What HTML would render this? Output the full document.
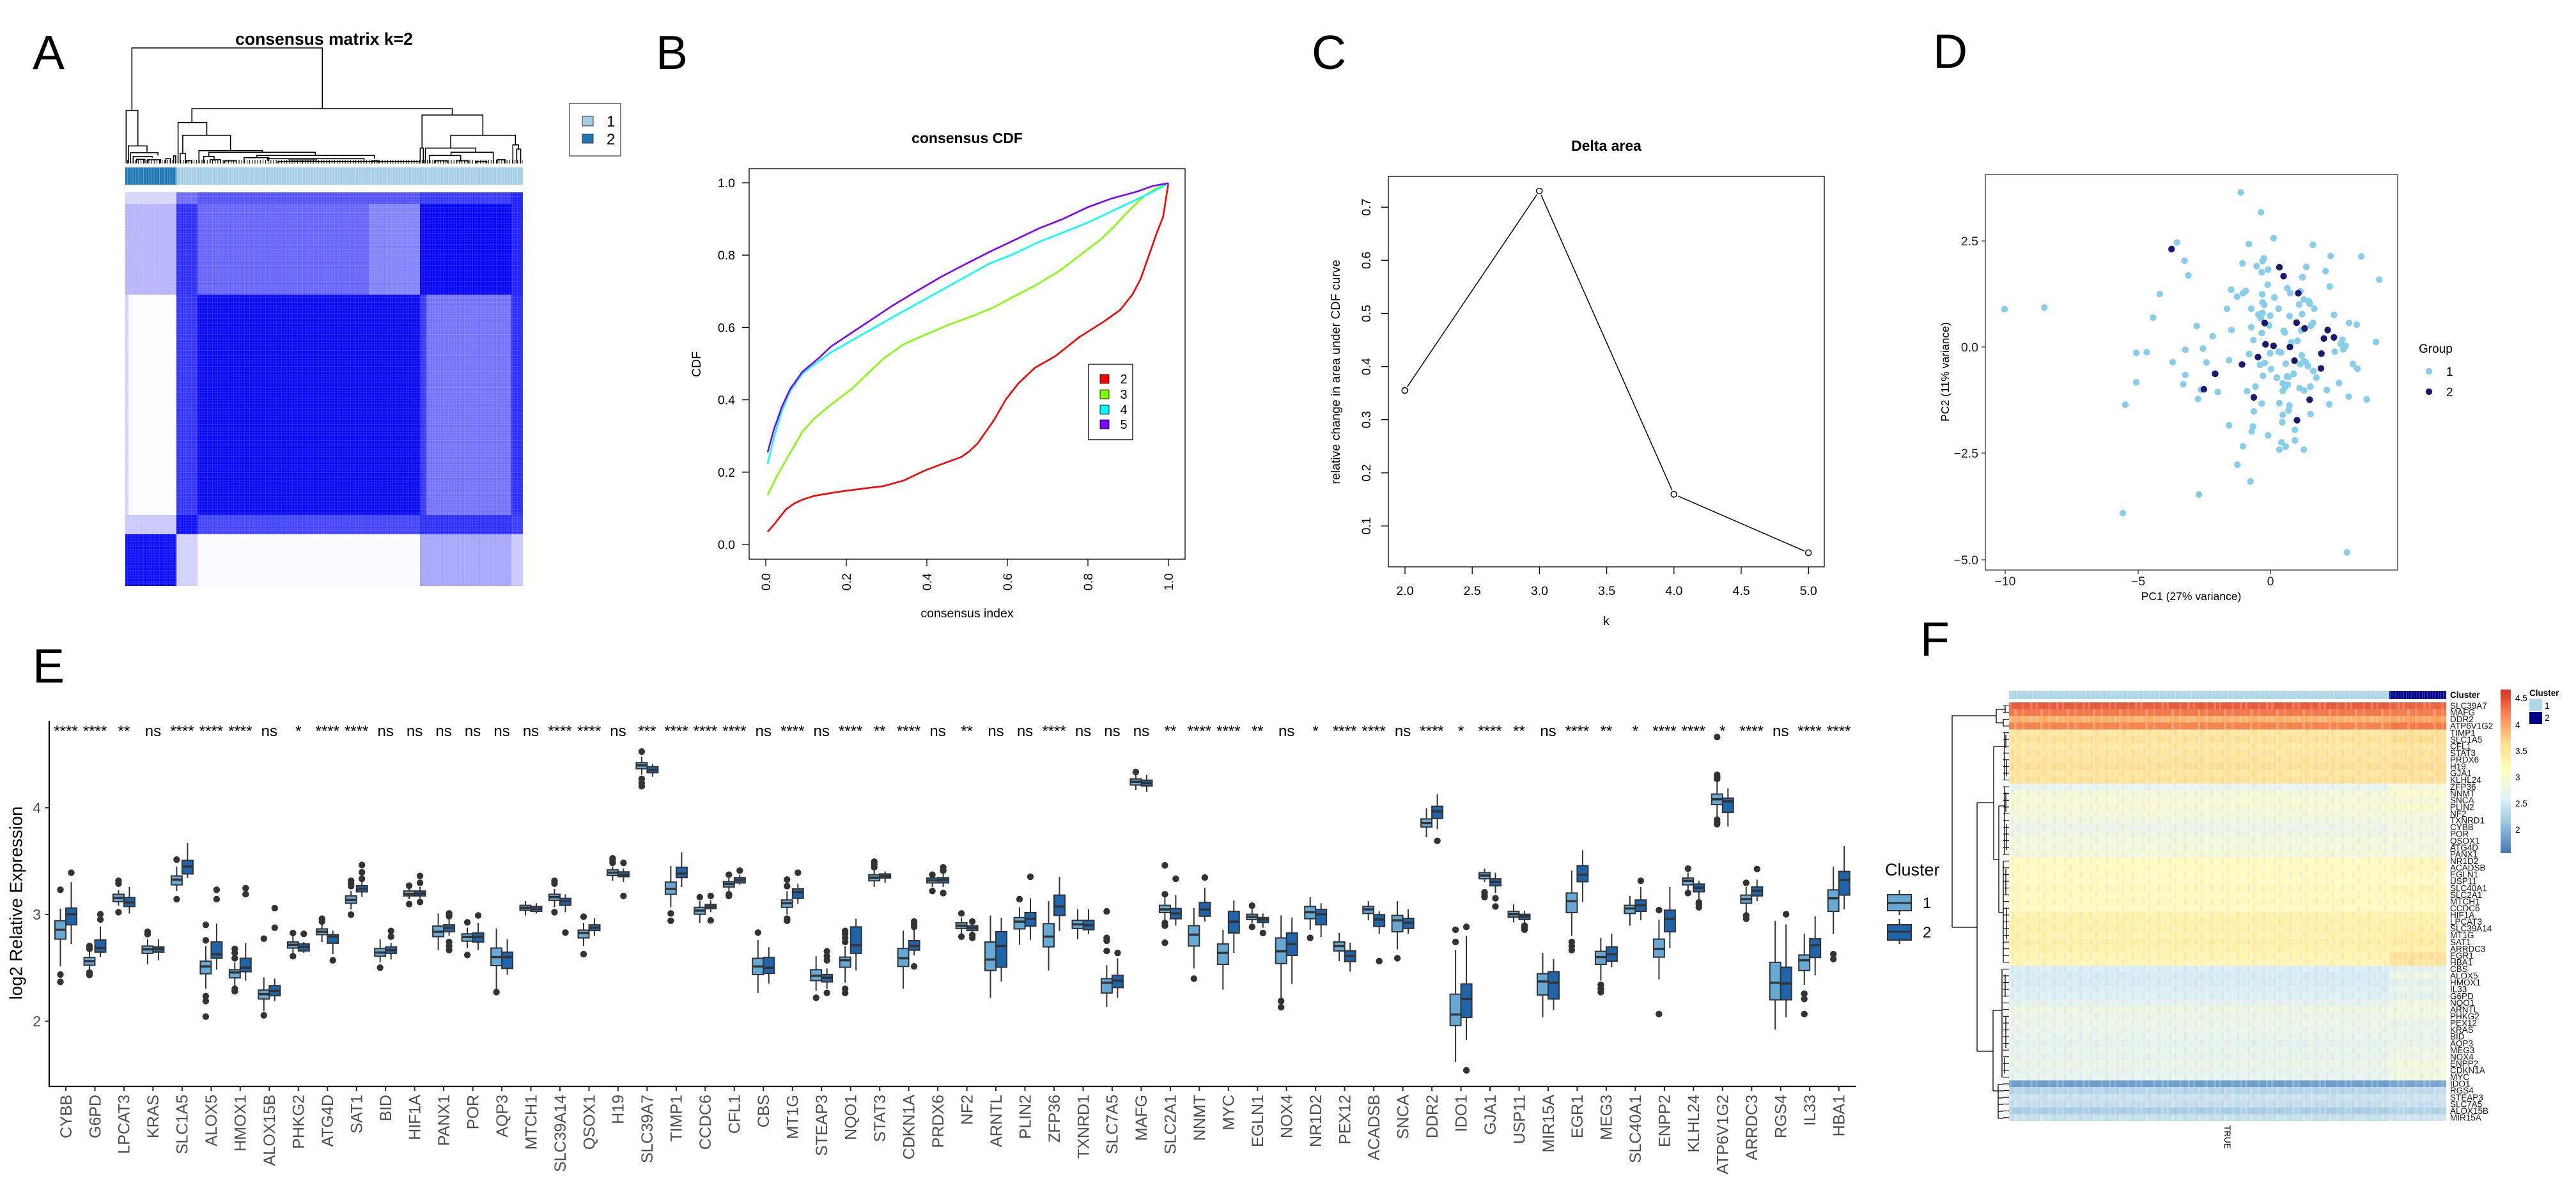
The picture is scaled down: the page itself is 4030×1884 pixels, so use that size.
<!DOCTYPE html>
<html><head><meta charset="utf-8"><style>
html,body{margin:0;padding:0;background:#fff;}
svg{display:block;}
svg text{font-family:"Liberation Sans",Arial,sans-serif;}
.sc path,.sc rect,.sc polyline,.sc ellipse,.sc line{vector-effect:non-scaling-stroke;}
.l{fill:#67a9d5}.d{fill:#1f63a8}.m{stroke-width:3.5}
</style></head><body>
<svg width="4030" height="1884" viewBox="0 0 4030 1884" xmlns="http://www.w3.org/2000/svg">
<defs>
<pattern id="hg" width="4.15" height="4.15" patternUnits="userSpaceOnUse"><path d="M0 0.5H4.15M0.5 0V4.15" stroke="#fff" stroke-opacity=".16" stroke-width="1"/></pattern>
<pattern id="cs" width="4.15" height="40" patternUnits="userSpaceOnUse"><rect width=".8" height="40" fill="#fff" fill-opacity=".35"/></pattern>
<pattern id="lf" width="4.15" height="40" patternUnits="userSpaceOnUse"><rect width="1.1" height="40" fill="#000"/></pattern>
<pattern id="lf2" x="0" y="1099" width="20" height="10.565" patternUnits="userSpaceOnUse"><rect y="4.8" width="20" height="1.1" fill="#000"/></pattern>
<pattern id="ft" x="3143" y="1099" width="41" height="21.13" patternUnits="userSpaceOnUse">
<rect x="0" y="0" width="4" height="10.565" fill="#fff" fill-opacity=".18"/>
<rect x="8" y="10.565" width="4" height="10.565" fill="#fff" fill-opacity=".22"/>
<rect x="12" y="0" width="4" height="10.565" fill="#c33" fill-opacity=".05"/>
<rect x="20" y="0" width="4" height="21.13" fill="#fff" fill-opacity=".12"/>
<rect x="28" y="10.565" width="4" height="10.565" fill="#36c" fill-opacity=".06"/>
<rect x="33" y="0" width="4" height="10.565" fill="#fff" fill-opacity=".2"/>
<rect x="4" y="10.565" width="4" height="10.565" fill="#36c" fill-opacity=".05"/>
</pattern>
<ellipse id="o" rx="5.2" ry="8.15" fill="#333" stroke="none"/>
<ellipse id="q" rx="7.9" ry="8.6" fill="#87ceeb" stroke="none"/>
<ellipse id="r" rx="7.9" ry="8.6" fill="#191970" stroke="none"/>
<linearGradient id="cb" x1="0" y1="0" x2="0" y2="1">
<stop offset="0" stop-color="#d73027"/><stop offset=".167" stop-color="#fc8d59"/><stop offset=".333" stop-color="#fee090"/><stop offset=".5" stop-color="#ffffbf"/><stop offset=".667" stop-color="#e0f3f8"/><stop offset=".833" stop-color="#91bfdb"/><stop offset="1" stop-color="#4575b4"/>
</linearGradient>
</defs>

<!-- Panel letters -->
<g font-size="75" fill="#000">
<text x="51" y="108">A</text>
<text x="1026" y="108">B</text>
<text x="2052" y="108">C</text>
<text x="3024" y="106">D</text>
<text x="51" y="1068">E</text>
<text x="3004" y="1026">F</text>
</g>

<!-- ============ Panel A ============ -->
<text x="507" y="70" font-size="26.5" font-weight="bold" text-anchor="middle">consensus matrix k=2</text>
<g class="sc" transform="translate(190,70) scale(0.4082,0.3333)" fill="none" stroke="#000" stroke-width="1.6">
<path d="M40 308V15H770V300"/>
<path d="M18 556V308H63V475"/>
<path d="M27 556V475H98V503"/>
<path d="M35 556V507H140V520"/>
<path d="M45 556V525H118V530"/>
<path d="M58 556V538H90V556"/>
<path d="M100 556V540H150V556"/>
<path d="M170 556V535H188V556"/>
<path d="M200 556V522H208V556"/>
<path d="M270 365V300H1268V330"/>
<path d="M217 556V365H327V425"/>
<path d="M235 510V425H418V497"/>
<path d="M225 556V510H245V556"/>
<path d="M297 556V497H540V505"/>
<path d="M335 525V505H743V520"/>
<path d="M315 556V525H355V545"/>
<path d="M518 530V520H970V535"/>
<path d="M470 556V530H565V545"/>
<path d="M560 545V535H930V548"/>
<path d="M1152 485V330H1385V425"/>
<path d="M1145 556V485H1157V556"/>
<path d="M1262 485V425H1510V470"/>
<path d="M1165 556V485H1358V505"/>
<path d="M1263 520V505H1425V556"/>
<path d="M1180 556V520H1300V545"/>
<path d="M1500 556V470H1522V490"/>
<path d="M1515 556V490H1530V556"/>
<path d="M250 556V545H270V556M340 556V540H380V556M395 556V545H440V556M600 556V548H1140M640 541H750M960 556V545H985V556M1200 556V545H1250V556M1285 556V545H1330V556M1360 556V548H1400V556M1440 556V540H1470V556"/>
</g>
<rect x="197" y="250" width="621" height="6" fill="url(#lf)"/>
<rect x="196" y="262" width="80" height="27" fill="#1f78b4"/>
<rect x="276" y="262" width="542" height="27" fill="#a6cee3"/>
<rect x="196" y="262" width="622" height="27" fill="url(#cs)"/>
<!-- heatmap -->
<rect x="196" y="301" width="80" height="160" fill="#b3b3fa"/>
<rect x="196" y="301" width="80" height="18" fill="#d5d5fd"/>
<rect x="276" y="301" width="33" height="160" fill="#2a2aff"/>
<rect x="276" y="301" width="33" height="18" fill="#6a6aff"/>
<rect x="309" y="301" width="348" height="160" fill="#6262ff"/>
<rect x="577" y="301" width="80" height="160" fill="#8080ff"/>
<rect x="309" y="301" width="348" height="18" fill="#5050ff"/>
<rect x="657" y="301" width="143" height="160" fill="#0000f8"/>
<rect x="657" y="301" width="143" height="18" fill="#3434ff"/>
<rect x="800" y="301" width="18" height="160" fill="#1c1cff"/>
<rect x="196" y="461" width="80" height="345" fill="#fdfdff"/>
<rect x="196" y="461" width="5" height="345" fill="#d0d0ff"/>
<rect x="276" y="461" width="33" height="345" fill="#3030ff"/>
<rect x="309" y="461" width="348" height="345" fill="#0303f2"/>
<rect x="657" y="461" width="143" height="345" fill="#7070ff"/>
<rect x="657" y="461" width="10" height="345" fill="#3030ff"/>
<rect x="800" y="461" width="18" height="345" fill="#2828ff"/>
<rect x="196" y="806" width="80" height="30" fill="#c8c8fd"/>
<rect x="276" y="806" width="33" height="30" fill="#0a0aff"/>
<rect x="309" y="806" width="348" height="30" fill="#4040ff"/>
<rect x="657" y="806" width="143" height="30" fill="#2a2aff"/>
<rect x="800" y="806" width="18" height="30" fill="#3838ff"/>
<rect x="196" y="836" width="80" height="81" fill="#0808ff"/>
<rect x="276" y="836" width="33" height="81" fill="#d0d0ff"/>
<rect x="309" y="836" width="348" height="81" fill="#fafaff"/>
<rect x="657" y="836" width="143" height="81" fill="#a4a4ff"/>
<rect x="800" y="836" width="18" height="81" fill="#c8c8ff"/>
<rect x="196" y="301" width="622" height="616" fill="url(#hg)"/>
<!-- legend A -->
<rect x="891" y="162" width="80" height="82" fill="#fff" stroke="#333" stroke-width="1.2"/>
<rect x="911" y="182" width="17" height="15" fill="#a6cee3" stroke="#333" stroke-width="1"/>
<rect x="911" y="210" width="17" height="14" fill="#1f78b4" stroke="#333" stroke-width="1"/>
<text x="949" y="198" font-size="24">1</text>
<text x="949" y="226" font-size="24">2</text>

<!-- ============ Panel B ============ -->
<text x="1513" y="224" font-size="23" font-weight="bold" text-anchor="middle">consensus CDF</text>
<rect x="1172" y="264" width="682" height="611" fill="none" stroke="#000" stroke-width="1.3"/>
<path d="M1161 852H1172M1161 738.8H1172M1161 625.6H1172M1161 512.4H1172M1161 399.2H1172M1161 286H1172M1198 875V886M1324 875V886M1450 875V886M1576 875V886M1702 875V886M1828 875V886" stroke="#000" stroke-width="1.3"/>
<g font-size="19.5" text-anchor="end">
<text x="1150" y="859">0.0</text><text x="1150" y="745.8">0.2</text><text x="1150" y="632.6">0.4</text><text x="1150" y="519.4">0.6</text><text x="1150" y="406.2">0.8</text><text x="1150" y="293">1.0</text>
<text transform="translate(1198,897) rotate(-90)" dy=".35em">0.0</text>
<text transform="translate(1324,897) rotate(-90)" dy=".35em">0.2</text>
<text transform="translate(1450,897) rotate(-90)" dy=".35em">0.4</text>
<text transform="translate(1576,897) rotate(-90)" dy=".35em">0.6</text>
<text transform="translate(1702,897) rotate(-90)" dy=".35em">0.8</text>
<text transform="translate(1828,897) rotate(-90)" dy=".35em">1.0</text>
</g>
<text x="1513" y="966" font-size="19.5" text-anchor="middle">consensus index</text>
<text transform="translate(1089,570) rotate(-90)" dy=".35em" font-size="19.5" text-anchor="middle">CDF</text>
<g class="sc" transform="translate(1000,0) scale(0.6378,0.6061)" fill="none" stroke-width="2.6" stroke-linejoin="round">
<path stroke="#ff0000" d="M315 1373L330 1355 360 1315 380 1300 400 1290 430 1280 470 1273 500 1268 560 1260 600 1255 650 1240 680 1225 700 1215 750 1195 790 1180 810 1165 830 1145 850 1115 870 1085 900 1030 930 990 970 950 1020 920 1080 870 1140 830 1180 800 1210 760 1230 720 1250 660 1260 630 1270 600 1285 560 1298 473"/>
<path stroke="#80ff00" d="M315 1278L340 1225 370 1170 400 1115 430 1080 470 1045 520 1005 560 965 600 925 650 888 700 865 760 838 820 815 870 793 920 765 970 738 1030 700 1080 660 1130 620 1160 590 1200 545 1240 505 1270 485 1298 473"/>
<path stroke="#00ffff" d="M315 1198L330 1130 350 1060 370 1010 400 965 430 940 470 910 520 880 570 850 620 820 680 785 740 750 800 715 860 680 920 655 980 625 1040 600 1100 575 1160 545 1220 515 1260 495 1298 473"/>
<path stroke="#8000ff" d="M315 1168L330 1110 350 1050 370 1005 400 960 440 925 470 895 520 860 570 825 620 790 680 752 740 715 800 682 860 650 920 620 980 590 1040 565 1100 535 1160 512 1220 495 1260 480 1298 473"/>
</g>
<rect x="1703" y="570" width="69" height="118" fill="#fff" stroke="#000" stroke-width="1.3"/>
<rect x="1721" y="586" width="14" height="14" fill="#ff0000" stroke="#000" stroke-width=".8"/>
<rect x="1721" y="610" width="14" height="14" fill="#80ff00" stroke="#000" stroke-width=".8"/>
<rect x="1721" y="634" width="14" height="14" fill="#00ffff" stroke="#000" stroke-width=".8"/>
<rect x="1721" y="657" width="14" height="14" fill="#8000ff" stroke="#000" stroke-width=".8"/>
<g font-size="20" text-anchor="middle"><text x="1758" y="600">2</text><text x="1758" y="624">3</text><text x="1758" y="648">4</text><text x="1758" y="671">5</text></g>

<!-- ============ Panel C ============ -->
<text x="2513" y="236" font-size="23" font-weight="bold" text-anchor="middle">Delta area</text>
<rect x="2172" y="276" width="682" height="611" fill="none" stroke="#000" stroke-width="1.3"/>
<path d="M2161 823H2172M2161 739.9H2172M2161 656.7H2172M2161 573.6H2172M2161 490.5H2172M2161 407.3H2172M2161 324.2H2172M2198 887V898M2303.2 887V898M2408.4 887V898M2513.6 887V898M2618.8 887V898M2724 887V898M2829.2 887V898" stroke="#000" stroke-width="1.3"/>
<g font-size="19.5" text-anchor="middle">
<text transform="translate(2137,823) rotate(-90)" dy=".35em">0.1</text>
<text transform="translate(2137,739.9) rotate(-90)" dy=".35em">0.2</text>
<text transform="translate(2137,656.7) rotate(-90)" dy=".35em">0.3</text>
<text transform="translate(2137,573.6) rotate(-90)" dy=".35em">0.4</text>
<text transform="translate(2137,490.5) rotate(-90)" dy=".35em">0.5</text>
<text transform="translate(2137,407.3) rotate(-90)" dy=".35em">0.6</text>
<text transform="translate(2137,324.2) rotate(-90)" dy=".35em">0.7</text>
<text x="2198" y="931">2.0</text><text x="2303.2" y="931">2.5</text><text x="2408.4" y="931">3.0</text><text x="2513.6" y="931">3.5</text><text x="2618.8" y="931">4.0</text><text x="2724" y="931">4.5</text><text x="2829.2" y="931">5.0</text>
<text x="2513" y="978">k</text>
<text transform="translate(2089,582) rotate(-90)" dy=".35em">relative change in area under CDF curve</text>
</g>
<g class="sc" transform="translate(2000,0) scale(0.6378,0.6061)">
<polyline points="310,1008 640,493 970,1276 1300,1427" fill="none" stroke="#000" stroke-width="1.5"/>
<g fill="#fff" stroke="none"><ellipse cx="310" cy="1008" rx="11" ry="11.5"/><ellipse cx="640" cy="493" rx="11" ry="11.5"/><ellipse cx="970" cy="1276" rx="11" ry="11.5"/><ellipse cx="1300" cy="1427" rx="11" ry="11.5"/></g>
<g fill="#fff" stroke="#000" stroke-width="1.5"><ellipse cx="310" cy="1008" rx="7.1" ry="7.4"/><ellipse cx="640" cy="493" rx="7.1" ry="7.4"/><ellipse cx="970" cy="1276" rx="7.1" ry="7.4"/><ellipse cx="1300" cy="1427" rx="7.1" ry="7.4"/></g>
</g>

<!-- ============ Panel D ============ -->
<g transform="translate(3000,0) scale(0.6566,0.6061)">
<use href="#q" x="770" y="497"/><use href="#q" x="818" y="548"/><use href="#q" x="848" y="615"/><use href="#q" x="942" y="632"/><use href="#q" x="789" y="630"/><use href="#q" x="618" y="626"/><use href="#q" x="984" y="661"/><use href="#q" x="1057" y="662"/><use href="#q" x="636" y="673"/><use href="#q" x="774" y="680"/><use href="#q" x="808" y="687"/><use href="#q" x="825" y="667"/><use href="#q" x="822" y="674"/><use href="#q" x="835" y="696"/><use href="#q" x="820" y="703"/><use href="#q" x="926" y="689"/><use href="#q" x="972" y="700"/><use href="#q" x="1100" y="722"/><use href="#q" x="645" y="711"/><use href="#q" x="917" y="716"/><use href="#q" x="982" y="740"/><use href="#q" x="834" y="735"/><use href="#q" x="881" y="744"/><use href="#q" x="912" y="752"/><use href="#q" x="888" y="757"/><use href="#q" x="747" y="748"/><use href="#q" x="775" y="757"/><use href="#q" x="761" y="766"/><use href="#q" x="782" y="751"/><use href="#q" x="821" y="760"/><use href="#q" x="850" y="768"/><use href="#q" x="577" y="759"/><use href="#q" x="920" y="773"/><use href="#q" x="932" y="777"/><use href="#q" x="934" y="784"/><use href="#q" x="909" y="786"/><use href="#q" x="826" y="787"/><use href="#q" x="822" y="781"/><use href="#q" x="207" y="798"/><use href="#q" x="302" y="794"/><use href="#q" x="737" y="797"/><use href="#q" x="795" y="797"/><use href="#q" x="860" y="797"/><use href="#q" x="945" y="797"/><use href="#q" x="992" y="813"/><use href="#q" x="916" y="811"/><use href="#q" x="886" y="816"/><use href="#q" x="812" y="812"/><use href="#q" x="822" y="808"/><use href="#q" x="840" y="815"/><use href="#q" x="818" y="822"/><use href="#q" x="561" y="820"/><use href="#q" x="1028" y="834"/><use href="#q" x="1046" y="838"/><use href="#q" x="942" y="834"/><use href="#q" x="937" y="841"/><use href="#q" x="665" y="842"/><use href="#q" x="795" y="845"/><use href="#q" x="838" y="840"/><use href="#q" x="914" y="853"/><use href="#q" x="748" y="852"/><use href="#q" x="872" y="854"/><use href="#q" x="875" y="858"/><use href="#q" x="820" y="860"/><use href="#q" x="703" y="868"/><use href="#q" x="800" y="878"/><use href="#q" x="890" y="884"/><use href="#q" x="905" y="880"/><use href="#q" x="1012" y="877"/><use href="#q" x="1020" y="893"/><use href="#q" x="1008" y="888"/><use href="#q" x="1014" y="902"/><use href="#q" x="1092" y="883"/><use href="#q" x="994" y="908"/><use href="#q" x="521" y="911"/><use href="#q" x="546" y="909"/><use href="#q" x="638" y="903"/><use href="#q" x="680" y="900"/><use href="#q" x="790" y="914"/><use href="#q" x="840" y="912"/><use href="#q" x="860" y="908"/><use href="#q" x="866" y="910"/><use href="#q" x="915" y="917"/><use href="#q" x="920" y="932"/><use href="#q" x="925" y="935"/><use href="#q" x="912" y="940"/><use href="#q" x="930" y="945"/><use href="#q" x="608" y="935"/><use href="#q" x="688" y="936"/><use href="#q" x="742" y="930"/><use href="#q" x="816" y="942"/><use href="#q" x="827" y="937"/><use href="#q" x="877" y="939"/><use href="#q" x="1037" y="940"/><use href="#q" x="1048" y="952"/><use href="#q" x="842" y="953"/><use href="#q" x="943" y="958"/><use href="#q" x="950" y="975"/><use href="#q" x="638" y="968"/><use href="#q" x="708" y="964"/><use href="#q" x="823" y="970"/><use href="#q" x="856" y="975"/><use href="#q" x="880" y="972"/><use href="#q" x="884" y="973"/><use href="#q" x="896" y="965"/><use href="#q" x="521" y="987"/><use href="#q" x="633" y="992"/><use href="#q" x="1004" y="989"/><use href="#q" x="870" y="990"/><use href="#q" x="876" y="999"/><use href="#q" x="882" y="993"/><use href="#q" x="805" y="998"/><use href="#q" x="936" y="998"/><use href="#q" x="910" y="1002"/><use href="#q" x="921" y="1008"/><use href="#q" x="975" y="1007"/><use href="#q" x="675" y="1006"/><use href="#q" x="715" y="1012"/><use href="#q" x="785" y="1010"/><use href="#q" x="870" y="1009"/><use href="#q" x="1027" y="1024"/><use href="#q" x="1070" y="1031"/><use href="#q" x="668" y="1030"/><use href="#q" x="820" y="1042"/><use href="#q" x="862" y="1041"/><use href="#q" x="886" y="1047"/><use href="#q" x="981" y="1044"/><use href="#q" x="495" y="1045"/><use href="#q" x="801" y="1062"/><use href="#q" x="884" y="1060"/><use href="#q" x="870" y="1071"/><use href="#q" x="936" y="1069"/><use href="#q" x="742" y="1098"/><use href="#q" x="799" y="1101"/><use href="#q" x="869" y="1090"/><use href="#q" x="796" y="1114"/><use href="#q" x="899" y="1110"/><use href="#q" x="835" y="1124"/><use href="#q" x="867" y="1142"/><use href="#q" x="899" y="1137"/><use href="#q" x="775" y="1152"/><use href="#q" x="877" y="1153"/><use href="#q" x="862" y="1161"/><use href="#q" x="920" y="1161"/><use href="#q" x="762" y="1200"/><use href="#q" x="793" y="1243"/><use href="#q" x="670" y="1277"/><use href="#q" x="489" y="1325"/><use href="#q" x="1023" y="1426"/>
<use href="#r" x="605" y="643"/><use href="#r" x="862" y="690"/><use href="#r" x="872" y="713"/><use href="#r" x="907" y="757"/><use href="#r" x="827" y="834"/><use href="#r" x="903" y="833"/><use href="#r" x="922" y="848"/><use href="#r" x="977" y="852"/><use href="#r" x="968" y="874"/><use href="#r" x="992" y="871"/><use href="#r" x="829" y="889"/><use href="#r" x="848" y="893"/><use href="#r" x="887" y="896"/><use href="#r" x="962" y="913"/><use href="#r" x="811" y="922"/><use href="#r" x="898" y="931"/><use href="#r" x="773" y="941"/><use href="#r" x="961" y="951"/><use href="#r" x="709" y="965"/><use href="#r" x="682" y="1005"/><use href="#r" x="801" y="1026"/><use href="#r" x="934" y="1032"/><use href="#r" x="904" y="1085"/>
</g>
<rect x="3106" y="273" width="645" height="619" fill="none" stroke="#333" stroke-width="1.3"/>
<path d="M3100 377H3106M3100 543H3106M3100 709H3106M3100 876H3106M3137 892V898M3345 892V898M3552 892V898" stroke="#333" stroke-width="1.3"/>
<g font-size="19.5" fill="#222">
<g text-anchor="end"><text x="3095" y="384">2.5</text><text x="3095" y="550">0.0</text><text x="3095" y="716">−2.5</text><text x="3095" y="883">−5.0</text></g>
<g text-anchor="middle"><text x="3137" y="916">−10</text><text x="3345" y="916">−5</text><text x="3552" y="916">0</text></g>
</g>
<text x="3428" y="939" font-size="17.5" text-anchor="middle">PC1 (27% variance)</text>
<text transform="translate(3043,582) rotate(-90)" dy=".35em" font-size="17.5" text-anchor="middle">PC2 (11% variance)</text>
<text x="3784" y="552" font-size="19">Group</text>
<circle cx="3800" cy="581" r="5.2" fill="#87ceeb"/>
<circle cx="3800" cy="613" r="5.2" fill="#191970"/>
<text x="3827" y="588" font-size="19">1</text>
<text x="3827" y="620" font-size="19">2</text>

<!-- ============ Panel E ============ -->
<path d="M77 1128V1700H2904" fill="none" stroke="#000" stroke-width="2.2"/>
<path d="M71 1264H77M71 1431H77M71 1598H77" stroke="#333" stroke-width="2"/>
<g font-size="23" fill="#4d4d4d" text-anchor="end"><text x="64" y="1272">4</text><text x="64" y="1439">3</text><text x="64" y="1606">2</text></g>
<text transform="translate(25,1413) rotate(-90)" dy=".35em" font-size="27.5" text-anchor="middle">log2 Relative Expression</text>
<path stroke="#333" stroke-width="2" d="M103 1700v7M148.5 1700v7M193.9 1700v7M239.4 1700v7M284.9 1700v7M330.4 1700v7M375.8 1700v7M421.3 1700v7M466.8 1700v7M512.2 1700v7M557.7 1700v7M603.2 1700v7M648.6 1700v7M694.1 1700v7M739.6 1700v7M785.1 1700v7M830.5 1700v7M876 1700v7M921.5 1700v7M966.9 1700v7M1012.4 1700v7M1057.9 1700v7M1103.3 1700v7M1148.8 1700v7M1194.3 1700v7M1239.8 1700v7M1285.2 1700v7M1330.7 1700v7M1376.2 1700v7M1421.6 1700v7M1467.1 1700v7M1512.6 1700v7M1558 1700v7M1603.5 1700v7M1649 1700v7M1694.5 1700v7M1739.9 1700v7M1785.4 1700v7M1830.9 1700v7M1876.3 1700v7M1921.8 1700v7M1967.3 1700v7M2012.7 1700v7M2058.2 1700v7M2103.7 1700v7M2149.2 1700v7M2194.6 1700v7M2240.1 1700v7M2285.6 1700v7M2331 1700v7M2376.5 1700v7M2422 1700v7M2467.4 1700v7M2512.9 1700v7M2558.4 1700v7M2603.9 1700v7M2649.3 1700v7M2694.8 1700v7M2740.3 1700v7M2785.7 1700v7M2831.2 1700v7M2876.7 1700v7"/>
<g font-size="25" fill="#4d4d4d" text-anchor="end">
<text transform="translate(103,1713) rotate(-90)" dy=".35em">CYBB</text>
<text transform="translate(148.5,1713) rotate(-90)" dy=".35em">G6PD</text>
<text transform="translate(193.9,1713) rotate(-90)" dy=".35em">LPCAT3</text>
<text transform="translate(239.4,1713) rotate(-90)" dy=".35em">KRAS</text>
<text transform="translate(284.9,1713) rotate(-90)" dy=".35em">SLC1A5</text>
<text transform="translate(330.4,1713) rotate(-90)" dy=".35em">ALOX5</text>
<text transform="translate(375.8,1713) rotate(-90)" dy=".35em">HMOX1</text>
<text transform="translate(421.3,1713) rotate(-90)" dy=".35em">ALOX15B</text>
<text transform="translate(466.8,1713) rotate(-90)" dy=".35em">PHKG2</text>
<text transform="translate(512.2,1713) rotate(-90)" dy=".35em">ATG4D</text>
<text transform="translate(557.7,1713) rotate(-90)" dy=".35em">SAT1</text>
<text transform="translate(603.2,1713) rotate(-90)" dy=".35em">BID</text>
<text transform="translate(648.6,1713) rotate(-90)" dy=".35em">HIF1A</text>
<text transform="translate(694.1,1713) rotate(-90)" dy=".35em">PANX1</text>
<text transform="translate(739.6,1713) rotate(-90)" dy=".35em">POR</text>
<text transform="translate(785.1,1713) rotate(-90)" dy=".35em">AQP3</text>
<text transform="translate(830.5,1713) rotate(-90)" dy=".35em">MTCH1</text>
<text transform="translate(876,1713) rotate(-90)" dy=".35em">SLC39A14</text>
<text transform="translate(921.5,1713) rotate(-90)" dy=".35em">QSOX1</text>
<text transform="translate(966.9,1713) rotate(-90)" dy=".35em">H19</text>
<text transform="translate(1012.4,1713) rotate(-90)" dy=".35em">SLC39A7</text>
<text transform="translate(1057.9,1713) rotate(-90)" dy=".35em">TIMP1</text>
<text transform="translate(1103.3,1713) rotate(-90)" dy=".35em">CCDC6</text>
<text transform="translate(1148.8,1713) rotate(-90)" dy=".35em">CFL1</text>
<text transform="translate(1194.3,1713) rotate(-90)" dy=".35em">CBS</text>
<text transform="translate(1239.8,1713) rotate(-90)" dy=".35em">MT1G</text>
<text transform="translate(1285.2,1713) rotate(-90)" dy=".35em">STEAP3</text>
<text transform="translate(1330.7,1713) rotate(-90)" dy=".35em">NQO1</text>
<text transform="translate(1376.2,1713) rotate(-90)" dy=".35em">STAT3</text>
<text transform="translate(1421.6,1713) rotate(-90)" dy=".35em">CDKN1A</text>
<text transform="translate(1467.1,1713) rotate(-90)" dy=".35em">PRDX6</text>
<text transform="translate(1512.6,1713) rotate(-90)" dy=".35em">NF2</text>
<text transform="translate(1558,1713) rotate(-90)" dy=".35em">ARNTL</text>
<text transform="translate(1603.5,1713) rotate(-90)" dy=".35em">PLIN2</text>
<text transform="translate(1649,1713) rotate(-90)" dy=".35em">ZFP36</text>
<text transform="translate(1694.5,1713) rotate(-90)" dy=".35em">TXNRD1</text>
<text transform="translate(1739.9,1713) rotate(-90)" dy=".35em">SLC7A5</text>
<text transform="translate(1785.4,1713) rotate(-90)" dy=".35em">MAFG</text>
<text transform="translate(1830.9,1713) rotate(-90)" dy=".35em">SLC2A1</text>
<text transform="translate(1876.3,1713) rotate(-90)" dy=".35em">NNMT</text>
<text transform="translate(1921.8,1713) rotate(-90)" dy=".35em">MYC</text>
<text transform="translate(1967.3,1713) rotate(-90)" dy=".35em">EGLN1</text>
<text transform="translate(2012.7,1713) rotate(-90)" dy=".35em">NOX4</text>
<text transform="translate(2058.2,1713) rotate(-90)" dy=".35em">NR1D2</text>
<text transform="translate(2103.7,1713) rotate(-90)" dy=".35em">PEX12</text>
<text transform="translate(2149.2,1713) rotate(-90)" dy=".35em">ACADSB</text>
<text transform="translate(2194.6,1713) rotate(-90)" dy=".35em">SNCA</text>
<text transform="translate(2240.1,1713) rotate(-90)" dy=".35em">DDR2</text>
<text transform="translate(2285.6,1713) rotate(-90)" dy=".35em">IDO1</text>
<text transform="translate(2331,1713) rotate(-90)" dy=".35em">GJA1</text>
<text transform="translate(2376.5,1713) rotate(-90)" dy=".35em">USP11</text>
<text transform="translate(2422,1713) rotate(-90)" dy=".35em">MIR15A</text>
<text transform="translate(2467.4,1713) rotate(-90)" dy=".35em">EGR1</text>
<text transform="translate(2512.9,1713) rotate(-90)" dy=".35em">MEG3</text>
<text transform="translate(2558.4,1713) rotate(-90)" dy=".35em">SLC40A1</text>
<text transform="translate(2603.9,1713) rotate(-90)" dy=".35em">ENPP2</text>
<text transform="translate(2649.3,1713) rotate(-90)" dy=".35em">KLHL24</text>
<text transform="translate(2694.8,1713) rotate(-90)" dy=".35em">ATP6V1G2</text>
<text transform="translate(2740.3,1713) rotate(-90)" dy=".35em">ARRDC3</text>
<text transform="translate(2785.7,1713) rotate(-90)" dy=".35em">RGS4</text>
<text transform="translate(2831.2,1713) rotate(-90)" dy=".35em">IL33</text>
<text transform="translate(2876.7,1713) rotate(-90)" dy=".35em">HBA1</text>
</g>
<g font-size="24" text-anchor="middle">
<text x="103" y="1152">****</text><text x="148.5" y="1152">****</text><text x="193.9" y="1152">**</text><text x="239.4" y="1152">ns</text><text x="284.9" y="1152">****</text><text x="330.4" y="1152">****</text><text x="375.8" y="1152">****</text><text x="421.3" y="1152">ns</text><text x="466.8" y="1152">*</text><text x="512.2" y="1152">****</text><text x="557.7" y="1152">****</text><text x="603.2" y="1152">ns</text><text x="648.6" y="1152">ns</text><text x="694.1" y="1152">ns</text><text x="739.6" y="1152">ns</text><text x="785.1" y="1152">ns</text><text x="830.5" y="1152">ns</text><text x="876" y="1152">****</text><text x="921.5" y="1152">****</text><text x="966.9" y="1152">ns</text><text x="1012.4" y="1152">***</text><text x="1057.9" y="1152">****</text><text x="1103.3" y="1152">****</text><text x="1148.8" y="1152">****</text><text x="1194.3" y="1152">ns</text><text x="1239.8" y="1152">****</text><text x="1285.2" y="1152">ns</text><text x="1330.7" y="1152">****</text><text x="1376.2" y="1152">**</text><text x="1421.6" y="1152">****</text><text x="1467.1" y="1152">ns</text><text x="1512.6" y="1152">**</text><text x="1558" y="1152">ns</text><text x="1603.5" y="1152">ns</text><text x="1649" y="1152">****</text><text x="1694.5" y="1152">ns</text><text x="1739.9" y="1152">ns</text><text x="1785.4" y="1152">ns</text><text x="1830.9" y="1152">**</text><text x="1876.3" y="1152">****</text><text x="1921.8" y="1152">****</text><text x="1967.3" y="1152">**</text><text x="2012.7" y="1152">ns</text><text x="2058.2" y="1152">*</text><text x="2103.7" y="1152">****</text><text x="2149.2" y="1152">****</text><text x="2194.6" y="1152">ns</text><text x="2240.1" y="1152">****</text><text x="2285.6" y="1152">*</text><text x="2331" y="1152">****</text><text x="2376.5" y="1152">**</text><text x="2422" y="1152">ns</text><text x="2467.4" y="1152">****</text><text x="2512.9" y="1152">**</text><text x="2558.4" y="1152">*</text><text x="2603.9" y="1152">****</text><text x="2649.3" y="1152">****</text><text x="2694.8" y="1152">*</text><text x="2740.3" y="1152">****</text><text x="2785.7" y="1152">ns</text><text x="2831.2" y="1152">****</text><text x="2876.7" y="1152">****</text>
</g>
<g class="sc" stroke="#333" stroke-width="2" fill="none">
<g transform="translate(103,884) scale(1,.6378)"><path d="M-8.5 843V985M8.5 778V930"/><rect class="l" x="-17" y="873" width="17" height="45"/><rect class="d" y="842" width="17" height="41"/><path class="m" d="M-17 895H0M0 857H17"/><use href="#o" x="-8.5" y="797"/><use href="#o" x="-8.5" y="1005"/><use href="#o" x="-8.5" y="1023"/><use href="#o" x="8.5" y="755"/></g>
<g transform="translate(148.5,884) scale(1,.6378)"><path d="M-8.5 950V995M8.5 887V962"/><rect class="l" x="-17" y="963" width="17" height="19"/><rect class="d" y="920" width="17" height="30"/><path class="m" d="M-17 972H0M0 940H17"/><use href="#o" x="-8.5" y="935"/><use href="#o" x="-8.5" y="942"/><use href="#o" x="-8.5" y="1000"/><use href="#o" x="-8.5" y="1006"/><use href="#o" x="8.5" y="857"/><use href="#o" x="8.5" y="870"/></g>
<g transform="translate(193.9,884) scale(1,.6378)"><path d="M-8.5 798V836M8.5 790V855"/><rect class="l" x="-17" y="808" width="17" height="18"/><rect class="d" y="816" width="17" height="22"/><path class="m" d="M-17 817H0M0 828H17"/><use href="#o" x="-8.5" y="775"/><use href="#o" x="-8.5" y="782"/><use href="#o" x="-8.5" y="852"/></g>
<g transform="translate(239.4,884) scale(1,.6378)"><path d="M-8.5 918V980M8.5 918V970"/><rect class="l" x="-17" y="935" width="17" height="18"/><rect class="d" y="937" width="17" height="13"/><path class="m" d="M-17 943H0M0 942H17"/><use href="#o" x="-8.5" y="900"/><use href="#o" x="-8.5" y="906"/></g>
<g transform="translate(284.9,884) scale(1,.6378)"><path d="M-8.5 740V800M8.5 682V768"/><rect class="l" x="-17" y="763" width="17" height="22"/><rect class="d" y="725" width="17" height="33"/><path class="m" d="M-17 772H0M0 740H17"/><use href="#o" x="-8.5" y="723"/><use href="#o" x="-8.5" y="820"/></g>
<g transform="translate(330.4,884) scale(1,.6378)"><path d="M-8.5 935V1040M8.5 880V993"/><rect class="l" x="-17" y="972" width="17" height="31"/><rect class="d" y="925" width="17" height="40"/><path class="m" d="M-17 985H0M0 955H17"/><use href="#o" x="-8.5" y="883"/><use href="#o" x="-8.5" y="921"/><use href="#o" x="-8.5" y="1058"/><use href="#o" x="-8.5" y="1070"/><use href="#o" x="-8.5" y="1108"/><use href="#o" x="8.5" y="797"/><use href="#o" x="8.5" y="820"/></g>
<g transform="translate(375.8,884) scale(1,.6378)"><path d="M-8.5 975V1035M8.5 928V1020"/><rect class="l" x="-17" y="993" width="17" height="20"/><rect class="d" y="965" width="17" height="33"/><path class="m" d="M-17 1000H0M0 988H17"/><use href="#o" x="-8.5" y="942"/><use href="#o" x="-8.5" y="952"/><use href="#o" x="-8.5" y="965"/><use href="#o" x="-8.5" y="1040"/><use href="#o" x="-8.5" y="1046"/><use href="#o" x="8.5" y="793"/><use href="#o" x="8.5" y="808"/></g>
<g transform="translate(421.3,884) scale(1,.6378)"><path d="M-8.5 1012V1095M8.5 1015V1070"/><rect class="l" x="-17" y="1043" width="17" height="22"/><rect class="d" y="1032" width="17" height="25"/><path class="m" d="M-17 1053H0M0 1045H17"/><use href="#o" x="-8.5" y="917"/><use href="#o" x="-8.5" y="1105"/><use href="#o" x="8.5" y="842"/><use href="#o" x="8.5" y="890"/></g>
<g transform="translate(466.8,884) scale(1,.6378)"><path d="M-8.5 910V955M8.5 925V952"/><rect class="l" x="-17" y="925" width="17" height="15"/><rect class="d" y="930" width="17" height="17"/><path class="m" d="M-17 932H0M0 937H17"/><use href="#o" x="-8.5" y="903"/><use href="#o" x="-8.5" y="960"/><use href="#o" x="8.5" y="905"/></g>
<g transform="translate(512.2,884) scale(1,.6378)"><path d="M-8.5 878V925M8.5 897V955"/><rect class="l" x="-17" y="893" width="17" height="14"/><rect class="d" y="907" width="17" height="21"/><path class="m" d="M-17 900H0M0 912H17"/><use href="#o" x="-8.5" y="868"/><use href="#o" x="-8.5" y="875"/><use href="#o" x="8.5" y="970"/></g>
<g transform="translate(557.7,884) scale(1,.6378)"><path d="M-8.5 800V845M8.5 770V815"/><rect class="l" x="-17" y="812" width="17" height="18"/><rect class="d" y="787" width="17" height="15"/><path class="m" d="M-17 822H0M0 795H17"/><use href="#o" x="-8.5" y="775"/><use href="#o" x="-8.5" y="781"/><use href="#o" x="-8.5" y="788"/><use href="#o" x="-8.5" y="858"/><use href="#o" x="8.5" y="736"/><use href="#o" x="8.5" y="754"/><use href="#o" x="8.5" y="770"/></g>
<g transform="translate(603.2,884) scale(1,.6378)"><path d="M-8.5 918V975M8.5 928V968"/><rect class="l" x="-17" y="941" width="17" height="19"/><rect class="d" y="937" width="17" height="16"/><path class="m" d="M-17 951H0M0 945H17"/><use href="#o" x="-8.5" y="988"/><use href="#o" x="8.5" y="898"/><use href="#o" x="8.5" y="912"/></g>
<g transform="translate(648.6,884) scale(1,.6378)"><path d="M-8.5 790V820M8.5 790V818"/><rect class="l" x="-17" y="800" width="17" height="12"/><rect class="d" y="800" width="17" height="12"/><path class="m" d="M-17 807H0M0 806H17"/><use href="#o" x="-8.5" y="787"/><use href="#o" x="-8.5" y="832"/><use href="#o" x="8.5" y="763"/><use href="#o" x="8.5" y="780"/><use href="#o" x="8.5" y="827"/></g>
<g transform="translate(694.1,884) scale(1,.6378)"><path d="M-8.5 855V945M8.5 870V910"/><rect class="l" x="-17" y="886" width="17" height="26"/><rect class="d" y="883" width="17" height="17"/><path class="m" d="M-17 900H0M0 890H17"/><use href="#o" x="8.5" y="855"/><use href="#o" x="8.5" y="862"/><use href="#o" x="8.5" y="925"/><use href="#o" x="8.5" y="935"/><use href="#o" x="8.5" y="945"/></g>
<g transform="translate(739.6,884) scale(1,.6378)"><path d="M-8.5 890V940M8.5 878V945"/><rect class="l" x="-17" y="905" width="17" height="18"/><rect class="d" y="903" width="17" height="22"/><path class="m" d="M-17 913H0M0 913H17"/><use href="#o" x="-8.5" y="877"/><use href="#o" x="-8.5" y="957"/><use href="#o" x="8.5" y="860"/></g>
<g transform="translate(785.1,884) scale(1,.6378)"><path d="M-8.5 892V1040M8.5 918V1005"/><rect class="l" x="-17" y="940" width="17" height="43"/><rect class="d" y="950" width="17" height="40"/><path class="m" d="M-17 962H0M0 962H17"/><use href="#o" x="-8.5" y="1048"/></g>
<g transform="translate(830.5,884) scale(1,.6378)"><path d="M-8.5 825V860M8.5 830V855"/><rect class="l" x="-17" y="835" width="17" height="12"/><rect class="d" y="838" width="17" height="12"/><path class="m" d="M-17 841H0M0 844H17"/></g>
<g transform="translate(876,884) scale(1,.6378)"><path d="M-8.5 795V840M8.5 808V852"/><rect class="l" x="-17" y="808" width="17" height="15"/><rect class="d" y="818" width="17" height="17"/><path class="m" d="M-17 815H0M0 825H17"/><use href="#o" x="-8.5" y="775"/><use href="#o" x="-8.5" y="782"/><use href="#o" x="-8.5" y="852"/><use href="#o" x="8.5" y="902"/></g>
<g transform="translate(921.5,884) scale(1,.6378)"><path d="M-8.5 878V935M8.5 867V910"/><rect class="l" x="-17" y="896" width="17" height="19"/><rect class="d" y="883" width="17" height="14"/><path class="m" d="M-17 903H0M0 890H17"/><use href="#o" x="-8.5" y="863"/><use href="#o" x="-8.5" y="955"/></g>
<g transform="translate(966.9,884) scale(1,.6378)"><path d="M-8.5 740V775M8.5 745V778"/><rect class="l" x="-17" y="748" width="17" height="14"/><rect class="d" y="753" width="17" height="12"/><path class="m" d="M-17 755H0M0 760H17"/><use href="#o" x="-8.5" y="720"/><use href="#o" x="-8.5" y="726"/><use href="#o" x="-8.5" y="731"/><use href="#o" x="8.5" y="731"/><use href="#o" x="8.5" y="812"/></g>
<g transform="translate(1012.4,884) scale(1,.6378)"><path d="M-8.5 470V515M8.5 488V520"/><rect class="l" x="-17" y="485" width="17" height="15"/><rect class="d" y="495" width="17" height="15"/><path class="m" d="M-17 492H0M0 503H17"/><use href="#o" x="-8.5" y="458"/><use href="#o" x="-8.5" y="525"/><use href="#o" x="-8.5" y="535"/><use href="#o" x="-8.5" y="543"/></g>
<g transform="translate(1057.9,884) scale(1,.6378)"><path d="M-8.5 738V840M8.5 705V790"/><rect class="l" x="-17" y="778" width="17" height="30"/><rect class="d" y="742" width="17" height="25"/><path class="m" d="M-17 795H0M0 757H17"/><use href="#o" x="-8.5" y="855"/><use href="#o" x="-8.5" y="873"/></g>
<g transform="translate(1103.3,884) scale(1,.6378)"><path d="M-8.5 825V878M8.5 822V852"/><rect class="l" x="-17" y="840" width="17" height="17"/><rect class="d" y="833" width="17" height="10"/><path class="m" d="M-17 848H0M0 838H17"/><use href="#o" x="-8.5" y="815"/><use href="#o" x="8.5" y="812"/><use href="#o" x="8.5" y="872"/></g>
<g transform="translate(1148.8,884) scale(1,.6378)"><path d="M-8.5 768V800M8.5 760V785"/><rect class="l" x="-17" y="777" width="17" height="13"/><rect class="d" y="767" width="17" height="13"/><path class="m" d="M-17 783H0M0 773H17"/><use href="#o" x="-8.5" y="760"/><use href="#o" x="-8.5" y="808"/><use href="#o" x="-8.5" y="812"/><use href="#o" x="8.5" y="750"/></g>
<g transform="translate(1194.3,884) scale(1,.6378)"><path d="M-8.5 920V1050M8.5 938V1027"/><rect class="l" x="-17" y="965" width="17" height="40"/><rect class="d" y="963" width="17" height="39"/><path class="m" d="M-17 985H0M0 988H17"/><use href="#o" x="-8.5" y="902"/></g>
<g transform="translate(1239.8,884) scale(1,.6378)"><path d="M-8.5 800V858M8.5 782V832"/><rect class="l" x="-17" y="822" width="17" height="18"/><rect class="d" y="795" width="17" height="23"/><path class="m" d="M-17 830H0M0 803H17"/><use href="#o" x="-8.5" y="772"/><use href="#o" x="-8.5" y="788"/><use href="#o" x="-8.5" y="868"/><use href="#o" x="-8.5" y="873"/><use href="#o" x="8.5" y="755"/></g>
<g transform="translate(1285.2,884) scale(1,.6378)"><path d="M-8.5 960V1045M8.5 990V1040"/><rect class="l" x="-17" y="993" width="17" height="27"/><rect class="d" y="1005" width="17" height="18"/><path class="m" d="M-17 1008H0M0 1013H17"/><use href="#o" x="-8.5" y="1062"/><use href="#o" x="8.5" y="948"/><use href="#o" x="8.5" y="960"/><use href="#o" x="8.5" y="970"/><use href="#o" x="8.5" y="1050"/></g>
<g transform="translate(1330.7,884) scale(1,.6378)"><path d="M-8.5 935V1025M8.5 868V995"/><rect class="l" x="-17" y="962" width="17" height="25"/><rect class="d" y="888" width="17" height="65"/><path class="m" d="M-17 970H0M0 933H17"/><use href="#o" x="-8.5" y="898"/><use href="#o" x="-8.5" y="905"/><use href="#o" x="-8.5" y="915"/><use href="#o" x="-8.5" y="925"/><use href="#o" x="-8.5" y="1040"/><use href="#o" x="-8.5" y="1050"/></g>
<g transform="translate(1376.2,884) scale(1,.6378)"><path d="M-8.5 750V790M8.5 752V780"/><rect class="l" x="-17" y="760" width="17" height="15"/><rect class="d" y="758" width="17" height="10"/><path class="m" d="M-17 767H0M0 763H17"/><use href="#o" x="-8.5" y="728"/><use href="#o" x="-8.5" y="735"/><use href="#o" x="-8.5" y="742"/></g>
<g transform="translate(1421.6,884) scale(1,.6378)"><path d="M-8.5 897V1040M8.5 895V958"/><rect class="l" x="-17" y="941" width="17" height="44"/><rect class="d" y="922" width="17" height="23"/><path class="m" d="M-17 965H0M0 935H17"/><use href="#o" x="8.5" y="875"/><use href="#o" x="8.5" y="881"/><use href="#o" x="8.5" y="888"/><use href="#o" x="8.5" y="985"/></g>
<g transform="translate(1467.1,884) scale(1,.6378)"><path d="M-8.5 752V790M8.5 745V790"/><rect class="l" x="-17" y="768" width="17" height="12"/><rect class="d" y="767" width="17" height="13"/><path class="m" d="M-17 774H0M0 773H17"/><use href="#o" x="-8.5" y="760"/><use href="#o" x="-8.5" y="800"/><use href="#o" x="8.5" y="742"/><use href="#o" x="8.5" y="750"/><use href="#o" x="8.5" y="805"/></g>
<g transform="translate(1512.6,884) scale(1,.6378)"><path d="M-8.5 865V905M8.5 872V905"/><rect class="l" x="-17" y="878" width="17" height="14"/><rect class="d" y="885" width="17" height="12"/><path class="m" d="M-17 885H0M0 891H17"/><use href="#o" x="-8.5" y="855"/><use href="#o" x="-8.5" y="912"/><use href="#o" x="8.5" y="875"/><use href="#o" x="8.5" y="908"/><use href="#o" x="8.5" y="915"/></g>
<g transform="translate(1558,884) scale(1,.6378)"><path d="M-8.5 860V1062M8.5 865V1022"/><rect class="l" x="-17" y="925" width="17" height="70"/><rect class="d" y="900" width="17" height="87"/><path class="m" d="M-17 968H0M0 935H17"/></g>
<g transform="translate(1603.5,884) scale(1,.6378)"><path d="M-8.5 840V932M8.5 818V920"/><rect class="l" x="-17" y="865" width="17" height="28"/><rect class="d" y="853" width="17" height="33"/><path class="m" d="M-17 875H0M0 868H17"/><use href="#o" x="-8.5" y="820"/><use href="#o" x="8.5" y="765"/></g>
<g transform="translate(1649,884) scale(1,.6378)"><path d="M-8.5 825V995M8.5 765V898"/><rect class="l" x="-17" y="880" width="17" height="57"/><rect class="d" y="810" width="17" height="50"/><path class="m" d="M-17 912H0M0 838H17"/></g>
<g transform="translate(1694.5,884) scale(1,.6378)"><path d="M-8.5 845V918M8.5 845V905"/><rect class="l" x="-17" y="872" width="17" height="20"/><rect class="d" y="872" width="17" height="23"/><path class="m" d="M-17 882H0M0 884H17"/></g>
<g transform="translate(1739.9,884) scale(1,.6378)"><path d="M-8.5 982V1085M8.5 965V1062"/><rect class="l" x="-17" y="1015" width="17" height="35"/><rect class="d" y="1007" width="17" height="30"/><path class="m" d="M-17 1025H0M0 1020H17"/><use href="#o" x="-8.5" y="850"/><use href="#o" x="-8.5" y="915"/><use href="#o" x="-8.5" y="922"/><use href="#o" x="-8.5" y="947"/><use href="#o" x="8.5" y="952"/></g>
<g transform="translate(1785.4,884) scale(1,.6378)"><path d="M-8.5 515V552M8.5 515V557"/><rect class="l" x="-17" y="525" width="17" height="15"/><rect class="d" y="528" width="17" height="14"/><path class="m" d="M-17 532H0M0 535H17"/><use href="#o" x="-8.5" y="508"/></g>
<g transform="translate(1830.9,884) scale(1,.6378)"><path d="M-8.5 812V870M8.5 810V885"/><rect class="l" x="-17" y="835" width="17" height="18"/><rect class="d" y="843" width="17" height="25"/><path class="m" d="M-17 845H0M0 855H17"/><use href="#o" x="-8.5" y="737"/><use href="#o" x="-8.5" y="808"/><use href="#o" x="-8.5" y="878"/><use href="#o" x="-8.5" y="885"/><use href="#o" x="-8.5" y="927"/><use href="#o" x="8.5" y="770"/></g>
<g transform="translate(1876.3,884) scale(1,.6378)"><path d="M-8.5 842V990M8.5 792V875"/><rect class="l" x="-17" y="885" width="17" height="50"/><rect class="d" y="828" width="17" height="34"/><path class="m" d="M-17 907H0M0 845H17"/><use href="#o" x="-8.5" y="1015"/><use href="#o" x="8.5" y="767"/></g>
<g transform="translate(1921.8,884) scale(1,.6378)"><path d="M-8.5 895V1042M8.5 823V952"/><rect class="l" x="-17" y="930" width="17" height="50"/><rect class="d" y="850" width="17" height="53"/><path class="m" d="M-17 952H0M0 875H17"/></g>
<g transform="translate(1967.3,884) scale(1,.6378)"><path d="M-8.5 845V878M8.5 855V890"/><rect class="l" x="-17" y="857" width="17" height="13"/><rect class="d" y="865" width="17" height="12"/><path class="m" d="M-17 863H0M0 870H17"/><use href="#o" x="-8.5" y="836"/><use href="#o" x="-8.5" y="888"/><use href="#o" x="8.5" y="903"/></g>
<g transform="translate(2012.7,884) scale(1,.6378)"><path d="M-8.5 860V1062M8.5 865V1028"/><rect class="l" x="-17" y="915" width="17" height="63"/><rect class="d" y="903" width="17" height="55"/><path class="m" d="M-17 948H0M0 930H17"/><use href="#o" x="-8.5" y="1070"/><use href="#o" x="-8.5" y="1085"/></g>
<g transform="translate(2058.2,884) scale(1,.6378)"><path d="M-8.5 815V895M8.5 830V913"/><rect class="l" x="-17" y="838" width="17" height="30"/><rect class="d" y="845" width="17" height="38"/><path class="m" d="M-17 852H0M0 857H17"/><use href="#o" x="-8.5" y="915"/></g>
<g transform="translate(2103.7,884) scale(1,.6378)"><path d="M-8.5 903V972M8.5 927V998"/><rect class="l" x="-17" y="925" width="17" height="22"/><rect class="d" y="947" width="17" height="26"/><path class="m" d="M-17 935H0M0 960H17"/></g>
<g transform="translate(2149.2,884) scale(1,.6378)"><path d="M-8.5 825V872M8.5 850V905"/><rect class="l" x="-17" y="838" width="17" height="17"/><rect class="d" y="858" width="17" height="29"/><path class="m" d="M-17 845H0M0 870H17"/><use href="#o" x="8.5" y="972"/></g>
<g transform="translate(2194.6,884) scale(1,.6378)"><path d="M-8.5 825V943M8.5 845V905"/><rect class="l" x="-17" y="860" width="17" height="40"/><rect class="d" y="867" width="17" height="25"/><path class="m" d="M-17 872H0M0 878H17"/><use href="#o" x="-8.5" y="965"/></g>
<g transform="translate(2240.1,884) scale(1,.6378)"><path d="M-8.5 597V668M8.5 562V648"/><rect class="l" x="-17" y="623" width="17" height="20"/><rect class="d" y="592" width="17" height="30"/><path class="m" d="M-17 633H0M0 605H17"/><use href="#o" x="8.5" y="677"/></g>
<g transform="translate(2285.6,884) scale(1,.6378)"><path d="M-8.5 945V1220M8.5 910V1165"/><rect class="l" x="-17" y="1053" width="17" height="77"/><rect class="d" y="1028" width="17" height="82"/><path class="m" d="M-17 1103H0M0 1065H17"/><use href="#o" x="-8.5" y="895"/><use href="#o" x="-8.5" y="925"/><use href="#o" x="8.5" y="888"/><use href="#o" x="8.5" y="1240"/></g>
<g transform="translate(2331,884) scale(1,.6378)"><path d="M-8.5 745V778M8.5 755V805"/><rect class="l" x="-17" y="755" width="17" height="15"/><rect class="d" y="770" width="17" height="17"/><path class="m" d="M-17 762H0M0 778H17"/><use href="#o" x="-8.5" y="803"/><use href="#o" x="-8.5" y="810"/><use href="#o" x="-8.5" y="815"/><use href="#o" x="8.5" y="818"/><use href="#o" x="8.5" y="838"/></g>
<g transform="translate(2376.5,884) scale(1,.6378)"><path d="M-8.5 833V877M8.5 848V877"/><rect class="l" x="-17" y="850" width="17" height="14"/><rect class="d" y="857" width="17" height="13"/><path class="m" d="M-17 857H0M0 862H17"/><use href="#o" x="8.5" y="885"/><use href="#o" x="8.5" y="890"/><use href="#o" x="8.5" y="895"/></g>
<g transform="translate(2422,884) scale(1,.6378)"><path d="M-8.5 952V1110M8.5 967V1092"/><rect class="l" x="-17" y="1003" width="17" height="52"/><rect class="d" y="998" width="17" height="67"/><path class="m" d="M-17 1022H0M0 1025H17"/></g>
<g transform="translate(2467.4,884) scale(1,.6378)"><path d="M-8.5 750V910M8.5 700V827"/><rect class="l" x="-17" y="805" width="17" height="48"/><rect class="d" y="738" width="17" height="39"/><path class="m" d="M-17 825H0M0 760H17"/><use href="#o" x="-8.5" y="925"/><use href="#o" x="-8.5" y="935"/><use href="#o" x="-8.5" y="945"/></g>
<g transform="translate(2512.9,884) scale(1,.6378)"><path d="M-8.5 915V1020M8.5 905V987"/><rect class="l" x="-17" y="948" width="17" height="32"/><rect class="d" y="937" width="17" height="35"/><path class="m" d="M-17 962H0M0 955H17"/><use href="#o" x="-8.5" y="1030"/><use href="#o" x="-8.5" y="1040"/><use href="#o" x="-8.5" y="1048"/></g>
<g transform="translate(2558.4,884) scale(1,.6378)"><path d="M-8.5 812V885M8.5 790V872"/><rect class="l" x="-17" y="835" width="17" height="20"/><rect class="d" y="822" width="17" height="28"/><path class="m" d="M-17 843H0M0 835H17"/><use href="#o" x="8.5" y="775"/></g>
<g transform="translate(2603.9,884) scale(1,.6378)"><path d="M-8.5 870V1017M8.5 790V940"/><rect class="l" x="-17" y="918" width="17" height="44"/><rect class="d" y="847" width="17" height="53"/><path class="m" d="M-17 942H0M0 868H17"/><use href="#o" x="-8.5" y="847"/><use href="#o" x="-8.5" y="1102"/></g>
<g transform="translate(2649.3,884) scale(1,.6378)"><path d="M-8.5 755V800M8.5 775V820"/><rect class="l" x="-17" y="768" width="17" height="17"/><rect class="d" y="783" width="17" height="19"/><path class="m" d="M-17 775H0M0 792H17"/><use href="#o" x="-8.5" y="745"/><use href="#o" x="-8.5" y="805"/><use href="#o" x="8.5" y="828"/><use href="#o" x="8.5" y="833"/><use href="#o" x="8.5" y="840"/></g>
<g transform="translate(2694.8,884) scale(1,.6378)"><path d="M-8.5 530V618M8.5 548V642"/><rect class="l" x="-17" y="562" width="17" height="26"/><rect class="d" y="572" width="17" height="35"/><path class="m" d="M-17 575H0M0 580H17"/><use href="#o" x="-8.5" y="422"/><use href="#o" x="-8.5" y="515"/><use href="#o" x="-8.5" y="520"/><use href="#o" x="-8.5" y="525"/><use href="#o" x="-8.5" y="625"/><use href="#o" x="-8.5" y="632"/><use href="#o" x="-8.5" y="636"/></g>
<g transform="translate(2740.3,884) scale(1,.6378)"><path d="M-8.5 790V855M8.5 772V825"/><rect class="l" x="-17" y="810" width="17" height="20"/><rect class="d" y="790" width="17" height="22"/><path class="m" d="M-17 820H0M0 800H17"/><use href="#o" x="-8.5" y="780"/><use href="#o" x="-8.5" y="860"/><use href="#o" x="-8.5" y="868"/><use href="#o" x="8.5" y="746"/></g>
<g transform="translate(2785.7,884) scale(1,.6378)"><path d="M-8.5 873V1140M8.5 882V1110"/><rect class="l" x="-17" y="975" width="17" height="92"/><rect class="d" y="987" width="17" height="80"/><path class="m" d="M-17 1025H0M0 1027H17"/><use href="#o" x="8.5" y="857"/></g>
<g transform="translate(2831.2,884) scale(1,.6378)"><path d="M-8.5 905V1030M8.5 862V1007"/><rect class="l" x="-17" y="957" width="17" height="38"/><rect class="d" y="917" width="17" height="46"/><path class="m" d="M-17 970H0M0 933H17"/><use href="#o" x="-8.5" y="1052"/><use href="#o" x="-8.5" y="1065"/><use href="#o" x="-8.5" y="1102"/></g>
<g transform="translate(2876.7,884) scale(1,.6378)"><path d="M-8.5 740V905M8.5 690V845"/><rect class="l" x="-17" y="797" width="17" height="53"/><rect class="d" y="752" width="17" height="58"/><path class="m" d="M-17 818H0M0 773H17"/><use href="#o" x="-8.5" y="955"/><use href="#o" x="-8.5" y="967"/></g>
</g>
<!-- legend E -->
<text x="2949" y="1370" font-size="27">Cluster</text>
<g stroke="#333" stroke-width="2">
<path d="M2971.5 1393V1432M2971.5 1438V1477"/>
<rect x="2953" y="1400" width="37" height="25" class="l"/>
<path d="M2953 1413H2990" stroke-width="3"/>
<rect x="2953" y="1447" width="37" height="24" class="d"/>
<path d="M2953 1458H2990" stroke-width="3"/>
</g>
<text x="3008" y="1421" font-size="24">1</text>
<text x="3008" y="1467" font-size="24">2</text>

<!-- ============ Panel F ============ -->
<rect x="3143" y="1081" width="595" height="13" fill="#add8e6"/>
<rect x="3738" y="1081" width="89" height="13" fill="#00008b"/>
<rect x="3143" y="1081" width="684" height="13" fill="url(#cs)"/>
<text x="3833" y="1092" font-size="13.5" font-weight="bold">Cluster</text>
<g transform="translate(3143,1099) scale(1,10.565)" shape-rendering="crispEdges">
<rect y="0" width="595" height="1.02" fill="#e75d3e"/><rect x="595" y="0" width="89" height="1.02" fill="#ea6541"/>
<rect y="1" width="595" height="1.02" fill="#f37a4b"/><rect x="595" y="1" width="89" height="1.02" fill="#f5804f"/>
<rect y="2" width="595" height="1.02" fill="#fdb26b"/><rect x="595" y="2" width="89" height="1.02" fill="#fca560"/>
<rect y="3" width="595" height="1.02" fill="#f6864f"/><rect x="595" y="3" width="89" height="1.02" fill="#f57a4a"/>
<rect y="4" width="595" height="1.02" fill="#fee8a0"/><rect x="595" y="4" width="89" height="1.02" fill="#fee29a"/>
<rect y="5" width="595" height="1.02" fill="#fee49a"/><rect x="595" y="5" width="89" height="1.02" fill="#fedd90"/>
<rect y="6" width="595" height="1.02" fill="#fee9a2"/><rect x="595" y="6" width="89" height="1.02" fill="#fee6a0"/>
<rect y="7" width="595" height="1.02" fill="#fde6a0"/><rect x="595" y="7" width="89" height="1.02" fill="#fee39b"/>
<rect y="8" width="595" height="1.02" fill="#fee49c"/><rect x="595" y="8" width="89" height="1.02" fill="#fee29a"/>
<rect y="9" width="595" height="1.02" fill="#fee197"/><rect x="595" y="9" width="89" height="1.02" fill="#fedd92"/>
<rect y="10" width="595" height="1.02" fill="#fee69f"/><rect x="595" y="10" width="89" height="1.02" fill="#fee29a"/>
<rect y="11" width="595" height="1.02" fill="#fee49b"/><rect x="595" y="11" width="89" height="1.02" fill="#fee09a"/>
<rect y="12" width="595" height="1.02" fill="#e8f4ef"/><rect x="595" y="12" width="89" height="1.02" fill="#f4f8dc"/>
<rect y="13" width="595" height="1.02" fill="#f3f8da"/><rect x="595" y="13" width="89" height="1.02" fill="#fbfbcc"/>
<rect y="14" width="595" height="1.02" fill="#f6f9d6"/><rect x="595" y="14" width="89" height="1.02" fill="#f4f8d8"/>
<rect y="15" width="595" height="1.02" fill="#f7f9d4"/><rect x="595" y="15" width="89" height="1.02" fill="#fafbcc"/>
<rect y="16" width="595" height="1.02" fill="#f3f8da"/><rect x="595" y="16" width="89" height="1.02" fill="#f3f8da"/>
<rect y="17" width="595" height="1.02" fill="#f1f7de"/><rect x="595" y="17" width="89" height="1.02" fill="#f1f7de"/>
<rect y="18" width="595" height="1.02" fill="#eaf5e9"/><rect x="595" y="18" width="89" height="1.02" fill="#f0f7df"/>
<rect y="19" width="595" height="1.02" fill="#eef6e2"/><rect x="595" y="19" width="89" height="1.02" fill="#eef6e2"/>
<rect y="20" width="595" height="1.02" fill="#f1f7dd"/><rect x="595" y="20" width="89" height="1.02" fill="#f1f7dd"/>
<rect y="21" width="595" height="1.02" fill="#f4f8d8"/><rect x="595" y="21" width="89" height="1.02" fill="#f0f7e0"/>
<rect y="22" width="595" height="1.02" fill="#f1f7dd"/><rect x="595" y="22" width="89" height="1.02" fill="#f1f7dd"/>
<rect y="23" width="595" height="1.02" fill="#fffbc2"/><rect x="595" y="23" width="89" height="1.02" fill="#fff9bd"/>
<rect y="24" width="595" height="1.02" fill="#fffac0"/><rect x="595" y="24" width="89" height="1.02" fill="#fff6b6"/>
<rect y="25" width="595" height="1.02" fill="#fffbc3"/><rect x="595" y="25" width="89" height="1.02" fill="#fffac0"/>
<rect y="26" width="595" height="1.02" fill="#fffbc4"/><rect x="595" y="26" width="89" height="1.02" fill="#fffbc4"/>
<rect y="27" width="595" height="1.02" fill="#fff8bb"/><rect x="595" y="27" width="89" height="1.02" fill="#fff6b5"/>
<rect y="28" width="595" height="1.02" fill="#fffabf"/><rect x="595" y="28" width="89" height="1.02" fill="#fff7b8"/>
<rect y="29" width="595" height="1.02" fill="#fff9bd"/><rect x="595" y="29" width="89" height="1.02" fill="#fff9bd"/>
<rect y="30" width="595" height="1.02" fill="#fffbc2"/><rect x="595" y="30" width="89" height="1.02" fill="#fffbc2"/>
<rect y="31" width="595" height="1.02" fill="#fff3ae"/><rect x="595" y="31" width="89" height="1.02" fill="#fff3ae"/>
<rect y="32" width="595" height="1.02" fill="#fff1ab"/><rect x="595" y="32" width="89" height="1.02" fill="#fff1ab"/>
<rect y="33" width="595" height="1.02" fill="#fff2ad"/><rect x="595" y="33" width="89" height="1.02" fill="#fff1aa"/>
<rect y="34" width="595" height="1.02" fill="#fff3af"/><rect x="595" y="34" width="89" height="1.02" fill="#ffeea6"/>
<rect y="35" width="595" height="1.02" fill="#fff0a9"/><rect x="595" y="35" width="89" height="1.02" fill="#ffeca3"/>
<rect y="36" width="595" height="1.02" fill="#fff2ad"/><rect x="595" y="36" width="89" height="1.02" fill="#fff0a8"/>
<rect y="37" width="595" height="1.02" fill="#fff5b3"/><rect x="595" y="37" width="89" height="1.02" fill="#fee29a"/>
<rect y="38" width="595" height="1.02" fill="#fff5b4"/><rect x="595" y="38" width="89" height="1.02" fill="#fee59c"/>
<rect y="39" width="595" height="1.02" fill="#dbeef3"/><rect x="595" y="39" width="89" height="1.02" fill="#e6f3ed"/>
<rect y="40" width="595" height="1.02" fill="#d6ebf2"/><rect x="595" y="40" width="89" height="1.02" fill="#eef6e4"/>
<rect y="41" width="595" height="1.02" fill="#d9edf3"/><rect x="595" y="41" width="89" height="1.02" fill="#e4f2ee"/>
<rect y="42" width="595" height="1.02" fill="#dcedf3"/><rect x="595" y="42" width="89" height="1.02" fill="#eaf5ea"/>
<rect y="43" width="595" height="1.02" fill="#dff0f2"/><rect x="595" y="43" width="89" height="1.02" fill="#e6f3ed"/>
<rect y="44" width="595" height="1.02" fill="#e4f2ef"/><rect x="595" y="44" width="89" height="1.02" fill="#eef6e2"/>
<rect y="45" width="595" height="1.02" fill="#eef6e3"/><rect x="595" y="45" width="89" height="1.02" fill="#f2f8dc"/>
<rect y="46" width="595" height="1.02" fill="#eaf5e9"/><rect x="595" y="46" width="89" height="1.02" fill="#eff6e1"/>
<rect y="47" width="595" height="1.02" fill="#ecf5e7"/><rect x="595" y="47" width="89" height="1.02" fill="#e8f4ea"/>
<rect y="48" width="595" height="1.02" fill="#eaf5e9"/><rect x="595" y="48" width="89" height="1.02" fill="#eaf5e9"/>
<rect y="49" width="595" height="1.02" fill="#e8f4ec"/><rect x="595" y="49" width="89" height="1.02" fill="#e8f4ec"/>
<rect y="50" width="595" height="1.02" fill="#e4f2ee"/><rect x="595" y="50" width="89" height="1.02" fill="#e8f4ea"/>
<rect y="51" width="595" height="1.02" fill="#e8f4ec"/><rect x="595" y="51" width="89" height="1.02" fill="#eef6e4"/>
<rect y="52" width="595" height="1.02" fill="#e6f3ec"/><rect x="595" y="52" width="89" height="1.02" fill="#ecf5e6"/>
<rect y="53" width="595" height="1.02" fill="#edf6e5"/><rect x="595" y="53" width="89" height="1.02" fill="#f4f8d8"/>
<rect y="54" width="595" height="1.02" fill="#e6f3ee"/><rect x="595" y="54" width="89" height="1.02" fill="#eef6e4"/>
<rect y="55" width="595" height="1.02" fill="#e8f4ec"/><rect x="595" y="55" width="89" height="1.02" fill="#f2f8dc"/>
<rect y="56" width="595" height="1.02" fill="#6f9fcd"/><rect x="595" y="56" width="89" height="1.02" fill="#7aa7d1"/>
<rect y="57" width="595" height="1.02" fill="#b6d6e9"/><rect x="595" y="57" width="89" height="1.02" fill="#c0dcec"/>
<rect y="58" width="595" height="1.02" fill="#c9e2ee"/><rect x="595" y="58" width="89" height="1.02" fill="#cde4ef"/>
<rect y="59" width="595" height="1.02" fill="#c5dfed"/><rect x="595" y="59" width="89" height="1.02" fill="#c9e1ee"/>
<rect y="60" width="595" height="1.02" fill="#aacfe5"/><rect x="595" y="60" width="89" height="1.02" fill="#b2d3e7"/>
<rect y="61" width="595" height="1" fill="#c7e1ee"/><rect x="595" y="61" width="89" height="1" fill="#cfe5ef"/>
</g>
<rect x="3143" y="1099" width="684" height="655" fill="url(#ft)"/>
<!-- row dendrogram -->
<rect x="3134" y="1099" width="9" height="655" fill="url(#lf2)"/>
<path fill="none" stroke="#000" stroke-width="1.3" d="M3054 1451V1120H3123M3123 1110V1131M3123 1110H3137M3137 1104V1115M3123 1131H3134M3134 1125V1136M3054 1451H3093M3093 1256V1645M3093 1256H3119M3119 1168V1345M3119 1168H3136M3136 1146V1221M3119 1345H3127M3127 1261V1428M3127 1261H3136M3136 1231V1337M3127 1428H3134M3134 1347V1506M3093 1645H3118M3118 1581V1707M3118 1581H3132M3132 1516V1686M3118 1707H3126M3126 1697V1750M3126 1697H3134M3126 1707H3134M3126 1718H3134M3126 1728H3134M3126 1739H3134M3126 1750H3134M3138 1150V1170M3139 1190V1215M3138 1240V1270M3139 1290V1330M3138 1360V1400M3139 1420V1470M3137 1525V1560M3138 1590V1640M3136 1655V1680"/>
<text font-size="13.5" fill="#111">
<tspan x="3833" y="1109">SLC39A7</tspan><tspan x="3833" dy="10.565">MAFG</tspan><tspan x="3833" dy="10.565">DDR2</tspan><tspan x="3833" dy="10.565">ATP6V1G2</tspan><tspan x="3833" dy="10.565">TIMP1</tspan><tspan x="3833" dy="10.565">SLC1A5</tspan><tspan x="3833" dy="10.565">CFL1</tspan><tspan x="3833" dy="10.565">STAT3</tspan><tspan x="3833" dy="10.565">PRDX6</tspan><tspan x="3833" dy="10.565">H19</tspan><tspan x="3833" dy="10.565">GJA1</tspan><tspan x="3833" dy="10.565">KLHL24</tspan><tspan x="3833" dy="10.565">ZFP36</tspan><tspan x="3833" dy="10.565">NNMT</tspan><tspan x="3833" dy="10.565">SNCA</tspan><tspan x="3833" dy="10.565">PLIN2</tspan><tspan x="3833" dy="10.565">NF2</tspan><tspan x="3833" dy="10.565">TXNRD1</tspan><tspan x="3833" dy="10.565">CYBB</tspan><tspan x="3833" dy="10.565">POR</tspan><tspan x="3833" dy="10.565">QSOX1</tspan><tspan x="3833" dy="10.565">ATG4D</tspan><tspan x="3833" dy="10.565">PANX1</tspan><tspan x="3833" dy="10.565">NR1D2</tspan><tspan x="3833" dy="10.565">ACADSB</tspan><tspan x="3833" dy="10.565">EGLN1</tspan><tspan x="3833" dy="10.565">USP11</tspan><tspan x="3833" dy="10.565">SLC40A1</tspan><tspan x="3833" dy="10.565">SLC2A1</tspan><tspan x="3833" dy="10.565">MTCH1</tspan><tspan x="3833" dy="10.565">CCDC6</tspan><tspan x="3833" dy="10.565">HIF1A</tspan><tspan x="3833" dy="10.565">LPCAT3</tspan><tspan x="3833" dy="10.565">SLC39A14</tspan><tspan x="3833" dy="10.565">MT1G</tspan><tspan x="3833" dy="10.565">SAT1</tspan><tspan x="3833" dy="10.565">ARRDC3</tspan><tspan x="3833" dy="10.565">EGR1</tspan><tspan x="3833" dy="10.565">HBA1</tspan><tspan x="3833" dy="10.565">CBS</tspan><tspan x="3833" dy="10.565">ALOX5</tspan><tspan x="3833" dy="10.565">HMOX1</tspan><tspan x="3833" dy="10.565">IL33</tspan><tspan x="3833" dy="10.565">G6PD</tspan><tspan x="3833" dy="10.565">NQO1</tspan><tspan x="3833" dy="10.565">ARNTL</tspan><tspan x="3833" dy="10.565">PHKG2</tspan><tspan x="3833" dy="10.565">PEX12</tspan><tspan x="3833" dy="10.565">KRAS</tspan><tspan x="3833" dy="10.565">BID</tspan><tspan x="3833" dy="10.565">AQP3</tspan><tspan x="3833" dy="10.565">MEG3</tspan><tspan x="3833" dy="10.565">NOX4</tspan><tspan x="3833" dy="10.565">ENPP2</tspan><tspan x="3833" dy="10.565">CDKN1A</tspan><tspan x="3833" dy="10.565">MYC</tspan><tspan x="3833" dy="10.565">IDO1</tspan><tspan x="3833" dy="10.565">RGS4</tspan><tspan x="3833" dy="10.565">STEAP3</tspan><tspan x="3833" dy="10.565">SLC7A5</tspan><tspan x="3833" dy="10.565">ALOX15B</tspan><tspan x="3833" dy="10.565">MIR15A</tspan>
</text>
<text transform="translate(3480,1761) rotate(90)" font-size="13.5">TRUE</text>
<!-- colorbar -->
<rect x="3912" y="1079" width="16" height="256" fill="url(#cb)"/>
<g font-size="13.5"><text x="3935" y="1097">4.5</text><text x="3935" y="1139">4</text><text x="3935" y="1180">3.5</text><text x="3935" y="1221">3</text><text x="3935" y="1262">2.5</text><text x="3935" y="1303">2</text></g>
<text x="3957" y="1089" font-size="13.5" font-weight="bold">Cluster</text>
<rect x="3957" y="1094" width="20" height="18" fill="#add8e6"/>
<rect x="3957" y="1114" width="20" height="19" fill="#00008b"/>
<text x="3981" y="1109" font-size="14">1</text>
<text x="3981" y="1128" font-size="14">2</text>
</svg>
</body></html>
